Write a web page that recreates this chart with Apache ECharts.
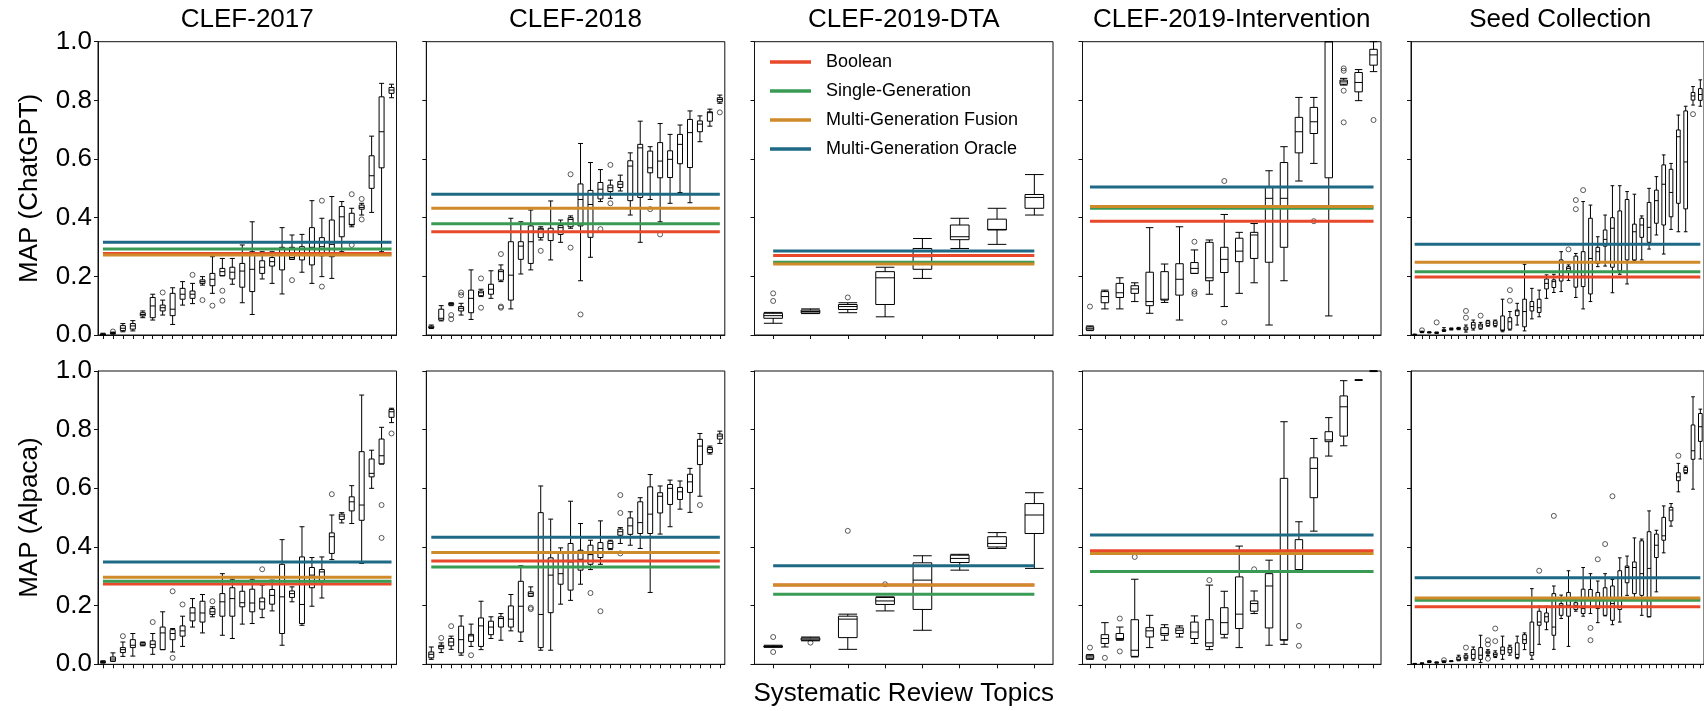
<!DOCTYPE html>
<html>
<head>
<meta charset="utf-8">
<script src="https://cdn.jsdelivr.net/npm/echarts@6/dist/echarts.min.js"></script>
<style>
  html, body { margin: 0; padding: 0; background: #fff; }
  #chart { width: 1704px; height: 711px; }
</style>
</head>
<body>
<div id="chart"></div>
<script>
const datasets = ['CLEF-2017', 'CLEF-2018', 'CLEF-2019-DTA', 'CLEF-2019-Intervention', 'Seed Collection'];
const rowNames = ['MAP (ChatGPT)', 'MAP (Alpaca)'];
const methods = ['Boolean', 'Single-Generation', 'Multi-Generation Fusion', 'Multi-Generation Oracle'];
const methodColors = ['#E8492B', '#3A9B55', '#CF8A29', '#1E6A86'];

// box stats per topic: [whisker low, Q1, median, Q3, whisker high]
const chatgpt2017 = [
  [0.0,0.001,0.002,0.004,0.006],[0.003,0.005,0.006,0.008,0.01],[0.011,0.015,0.023,0.032,0.039],
  [0.014,0.02,0.031,0.039,0.049],[0.059,0.065,0.07,0.076,0.082],[0.051,0.059,0.099,0.128,0.139],
  [0.068,0.082,0.093,0.102,0.119],[0.036,0.066,0.088,0.142,0.161],[0.102,0.122,0.139,0.159,0.182],
  [0.107,0.125,0.139,0.15,0.176],[0.17,0.176,0.182,0.188,0.199],[0.142,0.168,0.19,0.21,0.267],
  [0.202,0.202,0.216,0.227,0.261],[0.173,0.191,0.214,0.231,0.261],[0.11,0.163,0.218,0.244,0.307],
  [0.07,0.148,0.224,0.284,0.386],[0.191,0.21,0.231,0.253,0.284],[0.176,0.235,0.25,0.264,0.284],
  [0.14,0.222,0.275,0.299,0.366],[0.258,0.258,0.264,0.299,0.341],[0.214,0.256,0.278,0.301,0.343],
  [0.176,0.239,0.299,0.366,0.458],[0.199,0.27,0.301,0.332,0.398],[0.193,0.267,0.309,0.392,0.472],
  [0.284,0.335,0.403,0.438,0.455],[0.369,0.375,0.377,0.415,0.432],[0.409,0.429,0.435,0.443,0.449],
  [0.418,0.5,0.543,0.611,0.678],[0.284,0.57,0.693,0.812,0.858],[0.809,0.824,0.835,0.844,0.855]
];
const chatgpt2018 = [
  [0.022,0.024,0.026,0.03,0.034],[0.048,0.051,0.057,0.088,0.1],[0.1,0.103,0.106,0.108,0.11],
  [0.068,0.082,0.091,0.097,0.108],[0.053,0.076,0.125,0.153,0.222],[0.131,0.134,0.144,0.15,0.156],
  [0.125,0.139,0.156,0.173,0.219],[0.182,0.187,0.216,0.222,0.239],[0.089,0.119,0.204,0.318,0.398],
  [0.208,0.258,0.303,0.318,0.386],[0.222,0.244,0.318,0.372,0.426],[0.324,0.332,0.361,0.364,0.369],
  [0.256,0.322,0.35,0.364,0.457],[0.316,0.343,0.366,0.373,0.392],[0.364,0.369,0.394,0.4,0.406],
  [0.185,0.372,0.462,0.515,0.653],[0.265,0.333,0.445,0.493,0.588],[0.455,0.464,0.497,0.52,0.564],
  [0.466,0.489,0.502,0.511,0.528],[0.491,0.503,0.514,0.523,0.545],[0.409,0.458,0.576,0.594,0.621],
  [0.316,0.469,0.638,0.65,0.729],[0.462,0.553,0.57,0.627,0.642],[0.386,0.536,0.593,0.656,0.721],
  [0.449,0.537,0.599,0.628,0.684],[0.486,0.584,0.65,0.684,0.716],[0.451,0.571,0.69,0.735,0.764],
  [0.659,0.693,0.719,0.73,0.747],[0.712,0.729,0.758,0.761,0.77],[0.79,0.795,0.803,0.809,0.818]
];
const chatgptDta = [
  [0.04,0.057,0.066,0.074,0.077],[0.073,0.075,0.08,0.085,0.089],[0.076,0.087,0.097,0.104,0.11],
  [0.062,0.104,0.195,0.216,0.231],[0.193,0.224,0.267,0.295,0.329],[0.295,0.325,0.335,0.375,0.398],
  [0.309,0.358,0.36,0.395,0.432],[0.409,0.432,0.469,0.479,0.547]
];
const chatgptInt = [
  [0.015,0.017,0.023,0.028,0.031],[0.089,0.11,0.131,0.148,0.153],[0.089,0.128,0.144,0.176,0.195],
  [0.114,0.142,0.157,0.168,0.178],[0.074,0.1,0.114,0.214,0.366],[0.111,0.119,0.122,0.216,0.242],
  [0.051,0.136,0.19,0.243,0.369],[0.21,0.21,0.227,0.247,0.29],[0.139,0.185,0.195,0.316,0.324],
  [0.097,0.213,0.258,0.299,0.411],[0.142,0.25,0.286,0.33,0.35],[0.178,0.261,0.341,0.35,0.38],
  [0.034,0.248,0.466,0.506,0.56],[0.185,0.299,0.466,0.588,0.642],[0.525,0.621,0.693,0.742,0.81],
  [0.585,0.687,0.727,0.776,0.81],[0.065,0.536,1.0,1.0,1.0],[0.852,0.855,0.863,0.869,0.875],
  [0.799,0.829,0.861,0.895,0.905],[0.898,0.92,0.955,0.974,1.0]
];
const chatgptSeed = [
  [0,0,0.001,0.002,0.003],[0.008,0.009,0.01,0.012,0.013],[0.007,0.008,0.009,0.01,0.011],
  [0.005,0.006,0.008,0.009,0.01],[0.012,0.014,0.016,0.018,0.025],[0.017,0.019,0.02,0.022,0.024],
  [0.018,0.02,0.022,0.024,0.026],[0.01,0.017,0.02,0.027,0.034],[0.017,0.023,0.034,0.043,0.051],
  [0.02,0.023,0.031,0.037,0.043],[0.03,0.032,0.04,0.048,0.05],[0.028,0.032,0.04,0.048,0.051],
  [0.011,0.015,0.017,0.065,0.122],[0.017,0.02,0.045,0.059,0.08],[0.034,0.066,0.082,0.085,0.108],
  [0.014,0.028,0.08,0.122,0.241],[0.055,0.082,0.097,0.114,0.159],[0.062,0.077,0.093,0.122,0.153],
  [0.125,0.157,0.176,0.191,0.205],[0.145,0.162,0.182,0.188,0.207],[0.148,0.184,0.201,0.256,0.284],
  [0.186,0.218,0.227,0.233,0.239],[0.128,0.163,0.216,0.269,0.278],[0.089,0.165,0.201,0.284,0.455],
  [0.114,0.14,0.261,0.398,0.443],[0.233,0.244,0.284,0.299,0.335],[0.235,0.303,0.326,0.358,0.409],
  [0.144,0.231,0.364,0.4,0.509],[0.207,0.219,0.307,0.423,0.509],[0.174,0.256,0.307,0.462,0.489],
  [0.253,0.256,0.352,0.378,0.48],[0.256,0.333,0.375,0.398,0.406],[0.293,0.316,0.367,0.452,0.5],
  [0.341,0.381,0.458,0.494,0.54],[0.276,0.375,0.514,0.58,0.614],[0.36,0.403,0.486,0.565,0.585],
  [0.352,0.449,0.676,0.699,0.75],[0.352,0.43,0.59,0.764,0.78],[0.784,0.801,0.815,0.827,0.847],
  [0.78,0.8,0.82,0.84,0.87]
];

const alpaca2017 = [
  [0.004,0.006,0.008,0.01,0.012],[0.01,0.011,0.018,0.025,0.039],[0.027,0.04,0.05,0.057,0.076],
  [0.028,0.057,0.065,0.084,0.105],[0.063,0.065,0.069,0.074,0.076],[0.034,0.057,0.068,0.08,0.105],
  [0.05,0.05,0.107,0.127,0.179],[0.042,0.084,0.105,0.118,0.122],[0.061,0.096,0.114,0.131,0.164],
  [0.127,0.148,0.175,0.193,0.224],[0.107,0.144,0.175,0.215,0.238],[0.162,0.17,0.179,0.19,0.196],
  [0.099,0.164,0.213,0.241,0.309],[0.088,0.164,0.224,0.261,0.29],[0.137,0.196,0.21,0.249,0.275],
  [0.139,0.179,0.209,0.256,0.29],[0.159,0.188,0.213,0.226,0.27],[0.182,0.205,0.235,0.255,0.287],
  [0.065,0.105,0.23,0.341,0.425],[0.213,0.228,0.241,0.25,0.264],[0.133,0.139,0.204,0.366,0.469],
  [0.198,0.261,0.304,0.33,0.364],[0.226,0.281,0.315,0.323,0.366],[0.357,0.378,0.435,0.448,0.509],
  [0.482,0.494,0.505,0.512,0.517],[0.48,0.523,0.554,0.571,0.609],[0.344,0.491,0.543,0.725,0.918],
  [0.6,0.639,0.651,0.7,0.73],[0.683,0.683,0.711,0.768,0.808],[0.824,0.842,0.861,0.869,0.873]
];
const alpaca2018 = [
  [0.017,0.022,0.034,0.042,0.059],[0.04,0.053,0.061,0.065,0.073],[0.051,0.063,0.076,0.088,0.096],
  [0.031,0.039,0.084,0.13,0.165],[0.061,0.078,0.097,0.102,0.137],[0.05,0.061,0.131,0.158,0.215],
  [0.088,0.101,0.127,0.147,0.162],[0.082,0.127,0.156,0.162,0.173],[0.114,0.127,0.154,0.199,0.238],
  [0.078,0.11,0.198,0.283,0.336],[0.232,0.232,0.241,0.247,0.264],[0.048,0.057,0.17,0.517,0.608],
  [0.048,0.176,0.304,0.363,0.495],[0.205,0.273,0.309,0.378,0.397],[0.218,0.253,0.349,0.412,0.556],
  [0.273,0.321,0.358,0.389,0.48],[0.323,0.341,0.374,0.406,0.423],[0.341,0.364,0.395,0.415,0.489],
  [0.391,0.395,0.412,0.42,0.423],[0.412,0.44,0.452,0.461,0.466],[0.406,0.443,0.472,0.499,0.52],
  [0.395,0.446,0.483,0.554,0.568],[0.245,0.446,0.512,0.605,0.647],[0.444,0.516,0.573,0.585,0.608],
  [0.469,0.545,0.6,0.613,0.628],[0.529,0.562,0.588,0.603,0.625],[0.518,0.586,0.622,0.648,0.668],
  [0.573,0.681,0.744,0.767,0.787],[0.717,0.722,0.733,0.739,0.744],[0.753,0.768,0.778,0.785,0.795]
];
const alpacaDta = [
  [0.058,0.059,0.061,0.062,0.065],[0.08,0.082,0.086,0.09,0.093],[0.051,0.091,0.154,0.164,0.171],
  [0.182,0.204,0.216,0.228,0.23],[0.116,0.187,0.287,0.346,0.37],[0.321,0.347,0.361,0.372,0.375],
  [0.395,0.4,0.412,0.435,0.449],[0.327,0.446,0.509,0.548,0.585]
];
const alpacaInt = [
  [0.017,0.019,0.025,0.031,0.033],[0.059,0.071,0.088,0.101,0.142],[0.082,0.084,0.088,0.105,0.127],
  [0.025,0.027,0.048,0.152,0.29],[0.057,0.093,0.114,0.125,0.167],[0.082,0.099,0.105,0.125,0.135],
  [0.093,0.105,0.116,0.124,0.131],[0.071,0.088,0.11,0.144,0.165],[0.05,0.061,0.073,0.152,0.27],
  [0.09,0.102,0.142,0.193,0.249],[0.057,0.122,0.171,0.298,0.403],[0.173,0.181,0.207,0.216,0.25],
  [0.065,0.124,0.267,0.309,0.355],[0.068,0.082,0.084,0.634,0.827],[0.323,0.323,0.38,0.425,0.486],
  [0.454,0.568,0.668,0.704,0.77],[0.71,0.759,0.765,0.793,0.841],[0.745,0.778,0.878,0.915,0.967],
  [0.969,0.969,0.969,0.969,0.969],[0.998,0.999,1.0,1.0,1.0]
];
const alpacaSeed = [
  [0,0,0.001,0.002,0.003],[0.001,0.002,0.003,0.004,0.005],[0.006,0.007,0.009,0.011,0.012],
  [0.004,0.005,0.006,0.007,0.008],[0.006,0.007,0.008,0.01,0.012],[0.009,0.01,0.011,0.011,0.012],
  [0.012,0.014,0.017,0.025,0.031],[0.014,0.019,0.024,0.031,0.036],[0.014,0.019,0.034,0.05,0.059],
  [0.006,0.017,0.031,0.057,0.099],[0.03,0.036,0.041,0.045,0.05],[0.023,0.027,0.033,0.039,0.046],
  [0.017,0.034,0.048,0.059,0.096],[0.031,0.039,0.05,0.059,0.065],[0.019,0.023,0.034,0.073,0.096],
  [0.05,0.071,0.084,0.101,0.107],[0.017,0.031,0.04,0.144,0.258],[0.068,0.133,0.144,0.181,0.198],
  [0.118,0.144,0.162,0.175,0.198],[0.051,0.099,0.127,0.241,0.267],[0.156,0.167,0.201,0.207,0.236],
  [0.061,0.164,0.201,0.245,0.319],[0.181,0.187,0.201,0.21,0.218],[0.164,0.173,0.19,0.256,0.33],
  [0.173,0.218,0.226,0.255,0.309],[0.142,0.19,0.226,0.245,0.284],[0.165,0.167,0.228,0.261,0.309],
  [0.135,0.15,0.207,0.267,0.289],[0.144,0.187,0.196,0.319,0.363],[0.235,0.278,0.33,0.335,0.369],
  [0.221,0.241,0.33,0.349,0.431],[0.167,0.235,0.309,0.421,0.427],[0.162,0.162,0.327,0.452,0.523],
  [0.247,0.364,0.406,0.444,0.457],[0.38,0.423,0.438,0.501,0.54],[0.471,0.489,0.526,0.535,0.548],
  [0.588,0.626,0.639,0.653,0.685],[0.65,0.654,0.662,0.671,0.676],[0.597,0.699,0.728,0.816,0.912],
  [0.7,0.76,0.81,0.855,0.87]
];

// outliers: [topic index, MAP]
const chatgpt2017Out = [[1,0.012],[6,0.145],[9,0.205],[10,0.119],[11,0.1],[12,0.151],[12,0.117],[19,0.187],
  [22,0.458],[22,0.165],[25,0.48],[25,0.307],[26,0.464],[26,0.394]];
const chatgpt2018Out = [[2,0.068],[2,0.054],[3,0.145],[3,0.136],[5,0.193],[5,0.093],[7,0.276],[7,0.097],[7,0.093],
  [11,0.287],[14,0.548],[14,0.298],[15,0.07],[17,0.361],[18,0.58],[18,0.449],[22,0.429],[23,0.343],[29,0.759]];
const chatgptDtaOut = [[0,0.142],[0,0.116],[2,0.128]];
const chatgptIntOut = [[0,0.097],[7,0.318],[7,0.148],[7,0.14],[9,0.525],[9,0.043],[15,0.388],
  [17,0.909],[17,0.901],[17,0.833],[17,0.725],[19,0.733]];
const chatgptSeedOut = [[1,0.016],[3,0.043],[7,0.082],[7,0.059],[9,0.066],[13,0.153],[13,0.117],[21,0.292],
  [22,0.46],[22,0.429],[23,0.494],[38,0.753]];
const alpaca2017Out = [[2,0.096],[5,0.144],[7,0.249],[7,0.022],[8,0.204],[11,0.215],[16,0.324],[23,0.58],
  [28,0.543],[28,0.431],[29,0.787]];
const alpaca2018Out = [[1,0.09],[2,0.13],[4,0.031],[10,0.193],[10,0.188],[16,0.243],[17,0.181],[19,0.577],
  [19,0.516],[19,0.378],[27,0.543]];
const alpacaDtaOut = [[0,0.093],[0,0.042],[1,0.074],[2,0.455],[3,0.273]];
const alpacaIntOut = [[0,0.057],[1,0.022],[2,0.156],[2,0.044],[3,0.366],[8,0.287],[11,0.324],[14,0.131],[14,0.063]];
const alpacaSeedOut = [[4,0.014],[7,0.057],[10,0.082],[10,0.068],[10,0.019],[11,0.122],[11,0.079],[17,0.319],
  [19,0.506],[24,0.124],[24,0.082],[25,0.358],[26,0.41],[27,0.573],[36,0.711]];

// reference MAP per dataset (2017, 2018, DTA, Intervention, Seed)
const chatgptBoolean = [0.278, 0.352, 0.271, 0.388, 0.198];
const chatgptSingle  = [0.293, 0.379, 0.248, 0.432, 0.216];
const chatgptFusion  = [0.273, 0.432, 0.242, 0.438, 0.248];
const chatgptOracle  = [0.316, 0.480, 0.286, 0.505, 0.309];
const alpacaBoolean  = [0.274, 0.352, 0.270, 0.387, 0.196];
const alpacaSingle   = [0.283, 0.332, 0.239, 0.316, 0.218];
const alpacaFusion   = [0.297, 0.381, 0.270, 0.378, 0.226];
const alpacaOracle   = [0.349, 0.433, 0.336, 0.441, 0.295];

const boxes = [
  [chatgpt2017, chatgpt2018, chatgptDta, chatgptInt, chatgptSeed],
  [alpaca2017, alpaca2018, alpacaDta, alpacaInt, alpacaSeed]
];
const outliers = [
  [chatgpt2017Out, chatgpt2018Out, chatgptDtaOut, chatgptIntOut, chatgptSeedOut],
  [alpaca2017Out, alpaca2018Out, alpacaDtaOut, alpacaIntOut, alpacaSeedOut]
];
const refLines = [
  [chatgptBoolean, chatgptSingle, chatgptFusion, chatgptOracle],
  [alpacaBoolean, alpacaSingle, alpacaFusion, alpacaOracle]
];

const FONT = '"Liberation Sans", Arial, Helvetica, sans-serif';
const BIG = 26;
const panelLeft = [98, 426.3, 754.5, 1082.5, 1411];
const panelTop = [41.7, 371];
const panelW = 298.5, panelH = 293.3;
const ink = '#111';

let grid = [], xAxis = [], yAxis = [], series = [], graphic = [];

for (let r = 0; r < 2; r++) {
  for (let c = 0; c < 5; c++) {
    let g = r * 5 + c;
    let n = boxes[r][c].length;
    grid.push({
      left: panelLeft[c], top: panelTop[r], width: panelW, height: panelH,
      show: true, borderColor: ink, borderWidth: 1, backgroundColor: 'transparent'
    });
    xAxis.push({
      type: 'category', gridIndex: g,
      data: Array.from({length: n}, (_, i) => 'Topic ' + (i + 1)),
      boundaryGap: true,
      axisLine: {show: true, lineStyle: {color: ink, width: 1}},
      axisTick: {show: true, alignWithLabel: true, interval: 0, length: 4, lineStyle: {color: ink, width: 1}},
      axisLabel: {show: false},
      splitLine: {show: false}
    });
    yAxis.push({
      type: 'value', gridIndex: g, min: 0, max: 1, interval: 0.2,
      axisLine: {show: true, lineStyle: {color: ink, width: 1}},
      axisTick: {show: true, length: 4, lineStyle: {color: ink, width: 1}},
      axisLabel: {
        show: c === 0, formatter: v => v.toFixed(1), margin: 6,
        fontSize: BIG, color: '#000', fontFamily: FONT
      },
      splitLine: {show: false}
    });
    series.push({
      type: 'boxplot', xAxisIndex: g, yAxisIndex: g,
      data: boxes[r][c],
      boxWidth: ['50%', '50%'],
      itemStyle: {color: 'rgba(0,0,0,0)', borderColor: '#000', borderWidth: 1},
      emphasis: {disabled: true}, silent: true, z: 2
    });
    series.push({
      type: 'scatter', xAxisIndex: g, yAxisIndex: g,
      data: outliers[r][c],
      symbol: 'circle', symbolSize: 5,
      itemStyle: {color: 'rgba(0,0,0,0)', borderColor: '#000', borderWidth: 0.8},
      emphasis: {disabled: true}, silent: true, z: 3
    });
    methods.forEach((m, k) => {
      let v = refLines[r][k][c];
      series.push({
        type: 'line', name: m, xAxisIndex: g, yAxisIndex: g,
        data: [[0, v], [n - 1, v]],
        symbol: 'none',
        lineStyle: {color: methodColors[k], width: 3},
        itemStyle: {color: methodColors[k]},
        emphasis: {disabled: true}, silent: true, z: 4 + k
      });
    });
  }
  graphic.push({
    type: 'text', x: 30, y: panelTop[r] + panelH / 2, rotation: Math.PI / 2,
    style: {text: rowNames[r], fontSize: BIG, fontFamily: FONT, fill: '#000', align: 'center', verticalAlign: 'middle'}
  });
}

datasets.forEach((d, c) => {
  graphic.push({
    type: 'text', x: panelLeft[c] + panelW / 2, y: 20,
    style: {text: d, fontSize: BIG, fontFamily: FONT, fill: '#000', align: 'center', verticalAlign: 'middle'}
  });
});
graphic.push({
  type: 'text', x: panelLeft[2] + panelW / 2, y: 694,
  style: {text: 'Systematic Review Topics', fontSize: BIG, fontFamily: FONT, fill: '#000', align: 'center', verticalAlign: 'middle'}
});

let chart = echarts.init(document.getElementById('chart'));
chart.setOption({
  animation: false,
  backgroundColor: '#fff',
  grid: grid,
  xAxis: xAxis,
  yAxis: yAxis,
  legend: {
    data: methods, orient: 'vertical', left: 765, top: 47,
    icon: 'rect', itemWidth: 41, itemHeight: 3.5, itemGap: 9,
    selectedMode: false,
    textStyle: {fontSize: 18, fontFamily: FONT, color: '#000', lineHeight: 20, padding: [0, 0, 0, 10]}
  },
  graphic: graphic,
  series: series
});
</script>
</body>
</html>
